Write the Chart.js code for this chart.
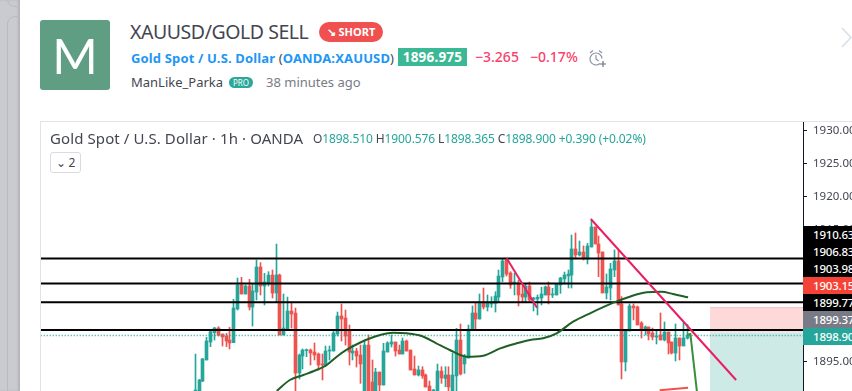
<!DOCTYPE html>
<html>
<head>
<meta charset="utf-8">
<script src="https://cdn.jsdelivr.net/npm/chart.js@4"></script>
<style>
html, body { margin: 0; padding: 0; background: #fff; overflow: hidden; }
body { width: 852px; height: 391px; position: relative; font-family: "Noto Sans", sans-serif; color: #434651; }
div, span { position: absolute; white-space: nowrap; }
#strip { left: 0; top: 0; width: 20px; height: 391px; background: #c9cbd0; box-shadow: inset -2px 0 2px #b2b4b9; }
#card1 { left: 7px; top: 16px; width: 30px; height: 400px; border: 1px solid #b9bbc0; border-radius: 8px; box-sizing: border-box; clip-path: inset(0 17px 0 0); }
#card2 { left: 7px; top: -30px; width: 30px; height: 37px; border: 1px solid #b9bbc0; border-radius: 8px; box-sizing: border-box; clip-path: inset(0 17px 0 0); }
#logo { left: 40px; top: 20px; width: 70px; height: 70px; background: #5f9e82; border-radius: 3px; color: #fff; font: 400 49px/70px Lato, sans-serif; text-align: center; }
#title { left: 130px; top: 17px; font-size: 19.5px; line-height: 30px; color: #434651; letter-spacing: -0.45px; }
#pill { left: 319px; top: 22px; width: 64px; height: 20px; background: #f0504f; border-radius: 10px; color: #fff; font: bold 11px/20px "Noto Sans", sans-serif; text-align: center; }
#sub { left: 131px; top: 48px; font-size: 13px; line-height: 20px; color: #434651; font-weight: 400; letter-spacing: 0.15px; }
#sub b { color: #2196f3; font-weight: 700; }
#price { left: 398px; top: 48px; width: 69px; height: 18px; background: #3bb895; color: #fff; font: bold 13.5px/18px "Noto Sans", sans-serif; text-align: center; letter-spacing: 0.2px; }
#chg { left: 475px; top: 47px; color: #f7426b; font: 500 14px/20px "Noto Sans", sans-serif; }
#pct { left: 530px; top: 47px; color: #f7426b; font: 500 14px/20px "Noto Sans", sans-serif; }
#user { left: 131px; top: 72px; font-size: 13px; line-height: 20px; color: #434651; }
#pro { left: 229px; top: 77px; width: 24px; height: 11px; border-radius: 6px; background: #2aa89a; color: #fff; font: 8px/11px "Noto Sans", sans-serif; text-align: center; }
#ago { left: 266px; top: 72px; font-size: 13px; line-height: 20px; color: #787b86; }
#panel { left: 40px; top: 121px; width: 830px; height: 290px; border: 1px solid #e0e3eb; box-sizing: border-box; }
#chartBox { left: 41px; top: 122px; width: 811px; height: 269px; overflow: hidden; }
#legend { left: 50px; top: 128px; font-size: 15px; line-height: 20px; color: #434651; letter-spacing: 0.1px; }
#ohlc { left: 313px; top: 129px; font-size: 12px; line-height: 20px; color: #26a69a; letter-spacing: -0.1px; }
#ohlc i { font-style: normal; color: #434651; }
#toggle { left: 50px; top: 152px; width: 31px; height: 21px; border: 1px solid #d8dbe3; border-radius: 3px; box-sizing: border-box; background: #fff; font-size: 12px; line-height: 19px; text-align: center; color: #434651; }
.tag { left: 803px; width: 49px; height: 17px; font-size: 11.5px; font-weight: 500; line-height: 17px; color: #fff; padding-left: 10px; box-sizing: border-box; overflow: hidden; letter-spacing: -0.2px; }
</style>
</head>
<body>
<div id="strip"></div><div id="card1"></div><div id="card2"></div>
<div id="logo">M</div>
<div id="title">XAUUSD/GOLD SELL</div>
<div id="pill">↘ SHORT</div>
<div id="sub"><b>Gold Spot / U.S. Dollar</b> (<b>OANDA:XAUUSD</b>)</div>
<div id="price">1896.975</div>
<div id="chg">−3.265</div>
<div id="pct">−0.17%</div>
<svg style="position:absolute;left:589px;top:49px" width="18" height="19" viewBox="0 0 18 19" fill="none" stroke="#8a95a5" stroke-width="1.2">
  <path d="M11 14.5a6 6 0 1 1 2-5"/><path d="M7 6v4l2.5 2"/><path d="M1 4l3-2.5M13 4l-3-2.5"/><path d="M14 12v6M11 15h6" stroke="#6b7480"/>
</svg>
<div id="user">ManLike_Parka</div>
<div id="pro">PRO</div>
<div id="ago">38 minutes ago</div>
<svg style="position:absolute;left:841px;top:27px" width="11" height="21" fill="none" stroke="#d6dfe6" stroke-width="1.5"><path d="M1 1l9 9.500-9 9.500"/></svg>
<div id="panel"></div>
<div id="chartBox"><canvas id="chart" width="811" height="269"></canvas></div>
<div id="legend">Gold Spot / U.S. Dollar · 1h · OANDA</div>
<div id="ohlc"><i>O</i>1898.510 <i>H</i>1900.576 <i>L</i>1898.365 <i>C</i>1898.900 +0.390 (+0.02%)</div>
<div id="toggle">⌄ 2</div>
<script>
const opens = [
  1890.2,1890.3,1892.0,1895.2,1897.93,1899.35,1900.05,1899.14,1898.84,1898.23,
  1897.83,1902.94,1906.58,1905.22,1906.43,1903.24,1905.52,1909.32,1906.43,1906.89,
  1908.10,1905.37,1908.1,1899.0,1899.9,1902.64,1902.33,1893.22,1895.8,1896.61,
  1896.71,1896.41,1896.11,1894.59,1894.44,1896.56,1896.56,1899.14,1901.88,1901.57,
  1899.75,1896.26,1896.56,1895.95,1889.5,1897.47,1891.85,1890.2,1893.37,1891.4,
  1896.41,1897.62,1897.93,1896.71,1896.11,1898.08,1896.71,1893.83,1892.92,1893.68,
  1892.92,1891.25,1890.2,1889.9,1893.52,1892.41,1892.92,1889.9,1892.77,1898.23,
  1894.59,1895.5,1899.75,1902.33,1901.42,1904.0,1903.24,1903.7,1903.8,1904.76,
  1907.8,1910.38,1908.41,1906.84,1906.89,1905.22,1904.76,1906.43,1904.41,1904.46,
  1904.62,1905.07,1906.29,1905.07,1905.07,1906.59,1907.5,1907.96,1908.11,1912.06,
  1911.15,1911.6,1910.54,1912.36,1915.4,1912.82,1911.6,1905.38,1906.13,1908.87,
  1910.23,1903.71,1894.9,1899.6,1903.4,1903.25,1900.82,1899.76,1900.21,1899.3,
  1898.69,1899.0,1898.24,1899.45,1897.93,1896.26,1898.54,1897.33,1898.51
];
const highs = [
  1896.1,1892.26,1895.45,1898.64,1899.85,1900.16,1900.26,1899.14,1899.24,1900.16,
  1904.41,1907.65,1907.75,1906.58,1907.45,1906.84,1910.38,1909.98,1908.36,1908.61,
  1908.86,1912.8,1908.25,1905.22,1904.76,1904.0,1903.09,1896.11,1896.87,1896.87,
  1896.87,1897.78,1896.26,1896.11,1897.32,1897.32,1899.75,1902.48,1903.7,1902.79,
  1900.51,1897.47,1896.97,1897.47,1898.23,1899.0,1895.2,1893.93,1893.37,1897.73,
  1897.98,1899.0,1897.93,1897.47,1898.54,1898.23,1896.71,1895.8,1894.28,1894.18,
  1893.07,1892.0,1890.74,1894.59,1894.18,1894.18,1894.18,1896.21,1900.0,1900.66,
  1896.06,1900.51,1903.4,1903.8,1905.22,1906.13,1905.07,1904.81,1905.57,1908.86,
  1910.63,1910.63,1908.61,1908.36,1907.34,1906.58,1906.84,1907.04,1904.72,1905.07,
  1906.24,1906.44,1907.05,1906.08,1906.84,1907.75,1908.56,1908.87,1914.18,1914.49,
  1913.27,1912.51,1912.92,1916.46,1915.4,1914.03,1911.6,1908.26,1909.88,1911.91,
  1911.91,1904.82,1899.86,1903.71,1903.71,1903.4,1901.02,1900.36,1900.21,1900.06,
  1899.76,1902.34,1900.97,1899.45,1897.93,1900.67,1898.54,1900.82,1900.58
];
const lows = [
  1889.5,1889.9,1891.9,1895.2,1897.22,1898.23,1898.84,1897.32,1897.22,1896.87,
  1897.83,1902.79,1905.22,1905.22,1902.79,1900.36,1904.31,1905.07,1903.55,1906.43,
  1904.61,1903.9,1899.0,1899.0,1899.75,1900.05,1890.49,1892.31,1893.83,1895.7,
  1894.44,1895.2,1893.68,1892.16,1894.18,1895.2,1896.56,1898.84,1898.08,1897.47,
  1894.44,1895.2,1894.13,1891.65,1889.0,1889.0,1889.5,1889.8,1890.2,1891.4,
  1896.41,1897.17,1895.8,1896.11,1896.11,1896.56,1893.68,1892.92,1892.77,1892.41,
  1891.1,1889.5,1889.8,1889.5,1891.65,1891.15,1890.0,1889.5,1890.2,1892.92,
  1893.17,1895.5,1899.75,1899.75,1901.42,1902.94,1902.64,1903.19,1902.48,1904.05,
  1907.09,1907.95,1906.08,1905.07,1903.4,1904.0,1904.05,1904.05,1902.64,1902.03,
  1903.55,1905.07,1903.71,1904.67,1905.07,1905.32,1906.74,1906.13,1906.13,1910.54,
  1910.99,1910.39,1909.78,1912.36,1912.82,1907.86,1905.38,1904.46,1904.31,1907.86,
  1903.55,1892.32,1893.53,1899.6,1901.28,1900.52,1898.54,1899.0,1898.24,1898.24,
  1897.63,1898.24,1898.09,1896.11,1896.11,1895.05,1895.2,1897.33,1898.37
];
const closes = [
  1890.64,1892.16,1895.35,1898.08,1899.5,1900.05,1898.94,1898.69,1898.08,1897.78,
  1903.09,1906.58,1905.22,1906.43,1903.24,1905.67,1909.32,1906.43,1907.04,1908.10,
  1905.37,1908.10,1899.0,1900.05,1902.64,1902.18,1893.22,1895.95,1896.71,1896.71,
  1896.26,1895.95,1894.44,1894.44,1896.56,1896.71,1899.3,1901.88,1901.42,1898.84,
  1896.41,1896.56,1895.8,1894.59,1897.47,1889.6,1890.0,1893.37,1891.4,1896.56,
  1897.78,1897.93,1896.56,1896.11,1898.08,1896.56,1893.68,1892.92,1893.68,1892.77,
  1891.1,1889.9,1890.64,1893.52,1892.46,1892.92,1891.1,1892.92,1898.23,1893.07,
  1895.8,1899.9,1902.33,1901.42,1904.0,1903.24,1903.85,1904.0,1904.91,1907.95,
  1910.23,1908.25,1906.58,1907.04,1905.07,1904.76,1906.43,1904.31,1904.62,1904.72,
  1905.22,1906.29,1905.07,1905.22,1906.74,1907.65,1908.11,1908.26,1912.06,1911.15,
  1911.6,1910.54,1912.51,1915.4,1912.82,1911.45,1905.38,1906.29,1909.02,1910.23,
  1903.55,1894.9,1899.76,1903.4,1903.1,1900.52,1899.76,1900.21,1899.15,1898.69,
  1898.85,1898.24,1899.45,1897.78,1896.26,1898.54,1897.33,1898.54,1898.9
];

// moving average, read at a few bar positions
const maBars = [21.2,24.6,28.1,32,34.2,36.8,39.3,42.8,47.2,51.5,55,58.9,62.7,66.2,70.6,74.9,79.3,83.6,87.1,90.5,94,98.3,102.7,108.8,113,117.4,121.3,124.3,128.2];
const maValues = [1890.49,1892.16,1892.92,1893.79,1894.44,1895.7,1896.72,1897.82,1898.84,1899.34,1899.25,1898.84,1897.73,1896.72,1895.7,1895.85,1896.97,1897.73,1898.23,1898.49,1899.25,1901.01,1902.29,1903.9,1904.81,1905.48,1905.57,1905.22,1904.72];

const levels = [1910.63, 1906.83, 1903.98, 1899.77];
const lastPrice = 1898.9;
const trendBars = [102.9, 140.7];
const trendValues = [1916.61, 1892.16];
const shortBars = [81, 88.9];
const shortValues = [1910.64, 1903.14];
const arrowBars = [127.9, 128.8, 130.6];
const arrowValues = [1899.0, 1899.15, 1889.9];
const lowerBars = [120.8, 128.2];
const lowerValues = [1890.6, 1891.0];
const boxBars = [133.9, 160];
const stopLevel = 1903.15;
const entryLevel = 1899.37;
const targetLevel = 1885;

const tagLabels = ['1910.63', '1906.83', '1903.98', '1903.15', '1899.77', '1899.37', '1898.90'];
const tagColors = ['#000', '#000', '#000', '#f44336', '#000', '#787b86', '#26a69a'];

tagLabels.forEach((label, i) => {
    const tag = document.createElement('div');
    tag.className = 'tag';
    tag.style.top = (226 + i * 17) + 'px';
    tag.style.background = tagColors[i];
    tag.textContent = label;
    document.body.appendChild(tag);
});

const GREEN = '#26a69a';
const RED = '#ef5350';
const barColors = closes.map((c, i) => c >= opens[i] ? GREEN : RED);

function pts(xs, ys) {
    return xs.map((x, i) => ({ x: x, y: ys[i] }));
}

function lineSet(xs, ys, color, width, order, extra) {
    return Object.assign({
        type: 'line', data: pts(xs, ys), borderColor: color, borderWidth: width,
        pointRadius: 0, fill: false, order: order
    }, extra || {});
}

const datasets = [
    lineSet(boxBars, [stopLevel, stopLevel], '#fbbcbc', 1, 20, { fill: { value: entryLevel }, backgroundColor: '#fdd9d9' }),
    lineSet(boxBars, [targetLevel, targetLevel], '#cdeae7', 1, 20, { fill: { value: entryLevel }, backgroundColor: '#cdeae7' }),
    {
        type: 'bar', data: closes.map((c, i) => ({ x: i, y: [lows[i], highs[i]] })),
        backgroundColor: barColors, barThickness: 1, grouped: false, order: 12
    },
    {
        type: 'bar', data: closes.map((c, i) => ({ x: i, y: [opens[i], c] })),
        backgroundColor: barColors, barThickness: 3, minBarLength: 1, grouped: false, order: 11
    },
    lineSet([-41, 160], [lastPrice, lastPrice], GREEN, 1.5, 9, { borderDash: [1, 2] })
];

levels.forEach(level => {
    datasets.push(lineSet([-41, 160], [level, level], '#000', 2, 8));
});
datasets.push(lineSet(maBars, maValues, '#1f5f25', 2, 6, { cubicInterpolationMode: 'monotone' }));
datasets.push(lineSet(trendBars, trendValues, '#e91e63', 2, 5));
datasets.push(lineSet(shortBars, shortValues, '#e91e63', 2, 5));
datasets.push(lineSet(arrowBars, arrowValues, '#388e3c', 2, 4));
datasets.push(lineSet(lowerBars, lowerValues, '#ef5350', 2, 4));

// candles sit on whole pixels in the original
const snapBars = {
    id: 'snapBars',
    afterDatasetsUpdate(chart) {
        chart.data.datasets.forEach((ds, i) => {
            if (ds.type === 'bar') {
                chart.getDatasetMeta(i).data.forEach(el => { el.x = Math.floor(el.x) + 0.5; });
            }
        });
    }
};

new Chart(document.getElementById('chart'), {
    type: 'bar',
    data: { datasets: datasets },
    plugins: [snapBars],
    options: {
        responsive: false,
        animation: false,
        events: [],
        layout: { padding: 0 },
        plugins: { legend: { display: false }, tooltip: { enabled: false } },
        scales: {
            x: { type: 'linear', display: false, min: -40.14, max: 158.1, offset: false },
            y: {
                position: 'right',
                min: 1890.49,
                max: 1931.34,
                afterFit: s => { s.width = 49; s.paddingTop = 0; s.paddingBottom = 0; },
                border: { color: '#131722', width: 1 },
                grid: { drawOnChartArea: false, tickLength: 4, tickColor: '#131722' },
                ticks: {
                    stepSize: 5, includeBounds: false, autoSkip: false, padding: 6, color: '#434651',
                    font: { family: '"Noto Sans", sans-serif', size: 11.5 },
                    callback: v => v.toFixed(2)
                }
            }
        }
    }
});
</script>
</body>
</html>
